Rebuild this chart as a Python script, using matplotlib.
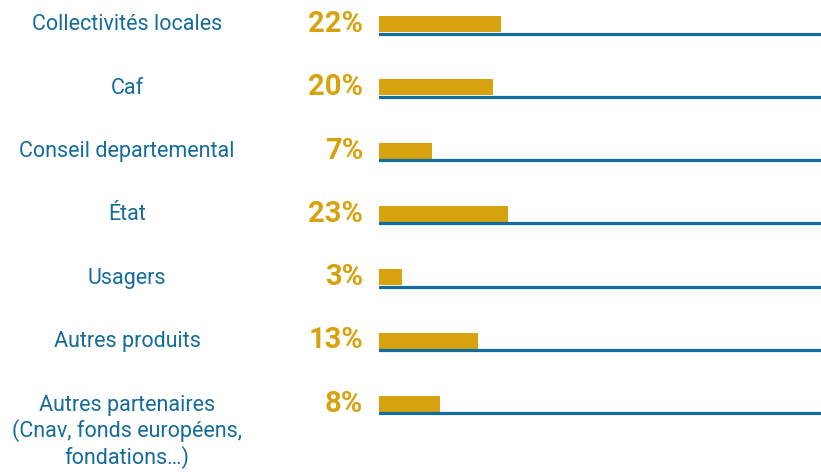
import matplotlib.pyplot as plt
from matplotlib import font_manager
from matplotlib.transforms import blended_transform_factory

# Données
categories = [
    "Collectivités locales",
    "Caf",
    "Conseil departemental",
    "État",
    "Usagers",
    "Autres produits",
    "Autres partenaires\n(Cnav, fonds européens,\nfondations…)",
]
pct_labels = ["22%", "20%", "7%", "23%", "3%", "13%", "8%"]
# longueurs des barres (échelle 0-80)
bar_lengths = [22.1, 20.6, 9.6, 23.3, 4.2, 17.9, 11.0]

gold = "#D6A30F"
blue = "#146C9C"

names = {f.name for f in font_manager.fontManager.ttflist}
fam = [f for f in ["Liberation Sans Narrow", "Roboto", "DejaVu Sans"] if f in names]
plt.rcParams["font.family"] = fam

fig = plt.figure(figsize=(8.21, 4.72), dpi=100)
ax = fig.add_axes([379 / 821, 0, 442 / 821, 1])
ax.set_xlim(0, 80)
ax.set_ylim(472, 0)
ax.axis("off")

row_top = [16 + 63.3 * i for i in range(len(categories))]
bar_h = 16

ax.barh([t + bar_h / 2 for t in row_top], bar_lengths, height=bar_h,
        color=gold, align="center", zorder=2)
for t in row_top:
    ax.axhline(t + bar_h + 1.5, xmin=0, xmax=1, color=blue, lw=2.3, zorder=3)

tr = blended_transform_factory(fig.transFigure, ax.transData)
for t, cat, p in zip(row_top, categories, pct_labels):
    ax.text(363 / 821, t + 8, p, transform=tr, ha="right", va="center",
            color=gold, fontsize=21, fontweight="bold")
    if "\n" in cat:
        ax.text(127 / 821, t - 1, cat, transform=tr, ha="center", va="top",
                color=blue, fontsize=15.5, linespacing=1.2)
    else:
        ax.text(127 / 821, t + 9, cat, transform=tr, ha="center", va="center",
                color=blue, fontsize=15.5)

fig.savefig("out.png", dpi=100)
